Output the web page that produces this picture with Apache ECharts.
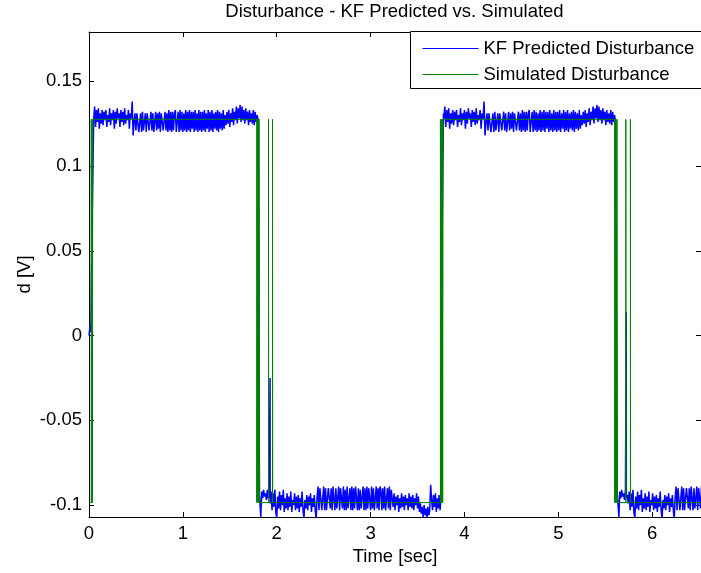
<!DOCTYPE html>
<html><head><meta charset="utf-8">
<script src="https://cdn.jsdelivr.net/npm/echarts@6/dist/echarts.min.js"></script>
<style>html,body{margin:0;padding:0;background:#fff}#c{width:701px;height:573px}</style>
</head><body><div id="c"></div>
<script>
const FONT = "'Liberation Sans', Arial, Helvetica, sans-serif";
const titleText = 'Disturbance - KF Predicted vs. Simulated';
const xName = 'Time [sec]';
const yName = 'd [V]';
const seriesNames = ['KF Predicted Disturbance', 'Simulated Disturbance'];
const xMin = 0, xMax = 6.52, xStep = 1;
const yMin = -0.107, yMax = 0.179, yStep = 0.05;

// Simulated disturbance: two levels, switching at the listed times
const simHigh = 0.1275, simLow = -0.0985;
const H = simHigh, L = simLow;
const simEdgeTime  = [0, 0.024, 0.028, 0.032, 0.036, 0.040,
  1.787, 1.792, 1.797, 1.802, 1.807, 1.812, 1.817,
  1.912, 1.914, 1.955, 1.957,
  3.744, 3.749, 3.754, 3.759, 3.764, 3.768, 3.772,
  5.600, 5.605, 5.610, 5.615, 5.620, 5.625, 5.630,
  5.719, 5.721, 5.768, 5.770, 6.6];
const simEdgeValue = [L, H, L, H, L, H,
  L, H, L, H, L, H, L,
  H, L, H, L,
  H, L, H, L, H, L, H,
  L, H, L, H, L, H, L,
  H, L, H, L, L];

// KF predicted disturbance, read in mV (0.001 V), plateau samples
const kfTopMV = [
 128,135,123,133,126,134,122,131,125,133,
 124,132,127,133,123,130,126,134,124,131,
 127,133,122,132,125,134,128,131,123,133,
 126,132,124,134,125,130,127,133,122,131,
 128,138,118,126,131,121,131,131,120,120,
 131,120,132,121,121,131,120,131,131,121,
 120,132,121,131,120,120,132,121,131,122,
 132,120,131,131,121,120,132,121,131,120,
 133,121,132,120,132,121,131,133,120,121,
 132,120,133,121,132,120,131,121,133,120,
 132,121,133,120,132,122,132,120,133,121,
 131,120,133,121,132,120,132,121,133,120,
 131,122,133,120,132,121,133,120,131,122,
 132,121,133,120,132,122,131,121,133,122,
 130,124,132,125,133,123,131,126,134,124,
 132,127,135,125,134,128,136,126,135,127,
 133,125,134,127,132,124,133,126,131,125,
 133,124,132,126,130];
const kfBottomMV = [
 -107,-92,-96,-91,-95,-93,-97,-91,-96,-94,
 -99,-92,-103,-93,-101,-91,-104,-108,-95,-102,
 -92,-103,-94,-100,-91,-104,-96,-102,-93,-103,
 -95,-101,-92,-104,-97,-100,-93,-103,-95,-102,
 -94,-104,-96,-101,-92,-103,-108,-97,-102,-94,
 -103,-95,-100,-93,-104,-96,-101,-94,-103,-108,
 -95,-89,-103,-90,-90,-103,-102,-89,-103,-90,
 -103,-103,-90,-89,-102,-90,-103,-89,-89,-103,
 -90,-102,-103,-89,-103,-90,-90,-102,-89,-103,
 -91,-103,-89,-102,-102,-90,-103,-89,-103,-90,
 -102,-89,-89,-103,-90,-103,-91,-102,-102,-89,
 -103,-90,-103,-89,-102,-90,-90,-103,-89,-102,
 -90,-103,-103,-89,-102,-90,-103,-89,-91,-103,
 -90,-102,-89,-103,-103,-90,-102,-89,-103,-91,
 -96,-101,-93,-103,-95,-100,-94,-104,-96,-102,
 -93,-101,-95,-103,-94,-100,-96,-103,-93,-101,
 -95,-102,-94,-103,-96,-100,-93,-102,-95,-104,
 -99,-105,-101,-107,-100,-106,-102,-108,-101,-106,
 -103,-88,-97,-103,-94,-101,-93,-104,-96,-102,
 -94,-103,-96];
const kfSegStart = [0.05, 1.83, 3.78, 5.645];
const kfSegEnd   = [1.79, 3.75, 5.60, 7.565];
const kfSegLevel = ['top', 'bottom', 'top', 'bottom'];
// transition / spike samples (V)
const kfEdgeTime  = [0, 0.012, 0.020, 0.030, 0.045, 1.803, 1.816, 1.929, 3.758, 3.764, 3.776, 5.606, 5.628, 5.724];
const kfEdgeValue = [0.000, 0.006, 0.002, 0.055, 0.055, 0.127, -0.094, -0.025, -0.096, 0.069, 0.131, 0.127, -0.093, 0.014];

// ---- build series data ----
const simData = [];
for (let k = 0; k < simEdgeTime.length; k++) {
  if (k > 0) simData.push([simEdgeTime[k], simEdgeValue[k - 1]]);
  simData.push([simEdgeTime[k], simEdgeValue[k]]);
}
let kfData = [];
for (let s = 0; s < kfSegStart.length; s++) {
  const arr = kfSegLevel[s] === 'top' ? kfTopMV : kfBottomMV;
  const dt = (kfSegEnd[s] - kfSegStart[s]) / (arr.length - 1);
  for (let i = 0; i < arr.length; i++) {
    const t = kfSegStart[s] + i * dt;
    if (t <= 6.6) kfData.push([t, arr[i] / 1000]);
  }
}
for (let k = 0; k < kfEdgeTime.length; k++) kfData.push([kfEdgeTime[k], kfEdgeValue[k]]);
kfData.sort((a, b) => a[0] - b[0]);

const FS = 18.5;
const txt = {color: '#000', fontSize: FS, fontFamily: FONT};
const xFmt = v => Math.abs(v / xStep - Math.round(v / xStep)) < 1e-6 ? String(Math.round(v)) : '';
const yFmt = v => Math.abs(v / yStep - Math.round(v / yStep)) < 1e-6 ? String(Math.round(v * 1000) / 1000) : '';
const axLine = {show: true, onZero: false, lineStyle: {color: '#000', width: 1}};
const axTick = {show: true, inside: true, length: 5, lineStyle: {color: '#000', width: 1}};

const chart = echarts.init(document.getElementById('c'), null, {renderer: 'canvas'});
chart.setOption({
  animation: false,
  backgroundColor: '#fff',
  title: {text: titleText, left: 389.5, top: -3, textAlign: 'center',
    textStyle: {color: '#000', fontSize: FS, fontWeight: 'normal', fontFamily: FONT}},
  graphic: [
    // legend frame (extends past the right edge of the window, as in the source figure)
    {type: 'rect', shape: {x: 410.5, y: 31.5, width: 320, height: 57},
     style: {fill: '#fff', stroke: '#000', lineWidth: 1}, z: 4, silent: true},
    // y-axis title
    {type: 'text', x: 25, y: 274.5, rotation: Math.PI / 2, silent: true,
     style: {text: yName, fill: '#000', fontSize: FS, fontFamily: FONT, align: 'center', verticalAlign: 'middle'}}
  ],
  legend: {data: seriesNames, orient: 'vertical', left: 410, top: 32,
    padding: [7, 12, 5, 12], itemWidth: 56, itemHeight: 18, itemGap: 7,
    borderWidth: 0, backgroundColor: 'transparent', z: 6,
    itemStyle: {color: 'rgba(0,0,0,0)', borderColor: 'rgba(0,0,0,0)', borderWidth: 0, opacity: 0},
    lineStyle: {width: 1},
    textStyle: txt},
  grid: {left: 89, top: 32, width: 613, height: 485, containLabel: false},
  xAxis: [
    {type: 'value', min: xMin, max: xMax, interval: xStep, position: 'bottom',
     axisLine: axLine, axisTick: axTick, splitLine: {show: false},
     axisLabel: Object.assign({margin: 7, formatter: xFmt, showMaxLabel: false}, txt),
     name: xName, nameLocation: 'middle', nameGap: 30, nameTextStyle: txt},
    {type: 'value', min: xMin, max: xMax, interval: xStep, position: 'top',
     axisLine: axLine, axisTick: axTick, splitLine: {show: false}, axisLabel: {show: false}}
  ],
  yAxis: [
    {type: 'value', min: yMin, max: yMax, splitNumber: 5, position: 'left',
     axisLine: axLine, axisTick: axTick, splitLine: {show: false},
     axisLabel: Object.assign({margin: 7, formatter: yFmt, showMinLabel: false, showMaxLabel: false}, txt)},
    {type: 'value', min: yMin, max: yMax, splitNumber: 5, position: 'right',
     axisLine: axLine, axisTick: axTick, splitLine: {show: false}, axisLabel: {show: false}}
  ],
  series: [
    {name: seriesNames[0], type: 'line', data: kfData, symbol: 'none', showSymbol: false,
     lineStyle: {color: '#0000ff', width: 1.5}, itemStyle: {color: '#0000ff'}, z: 2, clip: true},
    {name: seriesNames[1], type: 'line', data: simData, symbol: 'none', showSymbol: false,
     lineStyle: {color: '#008000', width: 1}, itemStyle: {color: '#008000'}, z: 3, clip: true}
  ]
});
</script></body></html>
